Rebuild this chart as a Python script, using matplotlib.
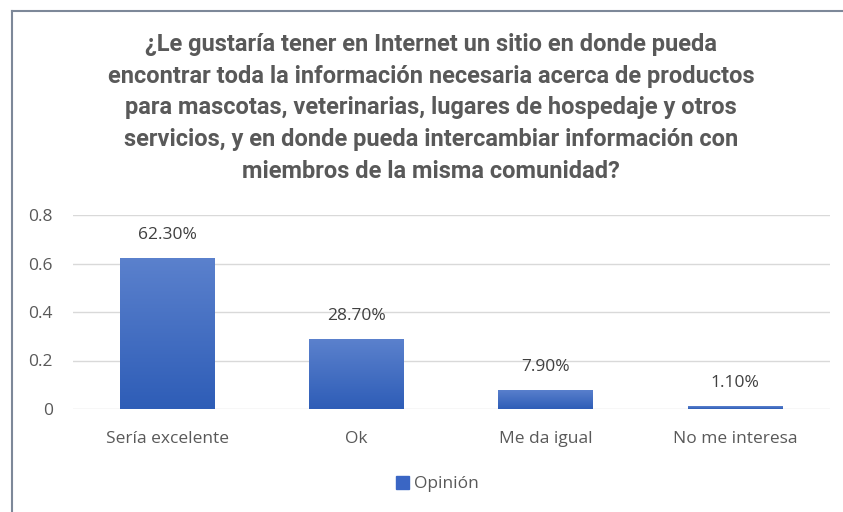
import numpy as np
import matplotlib.pyplot as plt
from matplotlib.lines import Line2D
from matplotlib.patches import Patch
from matplotlib.colors import LinearSegmentedColormap

categorias = ["Sería excelente", "Ok", "Me da igual", "No me interesa"]
valores = [0.623, 0.287, 0.079, 0.011]
etiquetas = ["62.30%", "28.70%", "7.90%", "1.10%"]
yticks = [0, 0.2, 0.4, 0.6, 0.8]
ytick_labels = ["0", "0.2", "0.4", "0.6", "0.8"]

titulo = ("¿Le gustaría tener en Internet un sitio en donde pueda\n"
          "encontrar toda la información necesaria acerca de productos\n"
          "para mascotas, veterinarias, lugares de hospedaje y otros\n"
          "servicios, y en donde pueda intercambiar información con\n"
          "miembros de la misma comunidad?")

fuente_titulo = "Roboto"
fuente = "Open Sans"
gris = "#595959"

fig = plt.figure(figsize=(8.43, 5.12), dpi=100)
ax = fig.add_axes([72.5 / 843, 1 - 409 / 512, (829.5 - 72.5) / 843, (409 - 215) / 512])

x = np.arange(len(categorias))
barras = ax.bar(x, valores, width=0.5, color="#3A66C4", zorder=2)

# degradado vertical dentro de cada barra
grad = np.linspace(0, 1, 256).reshape(-1, 1)
cmap = LinearSegmentedColormap.from_list("azul", ["#2E5DB7", "#5B81CD"])
for b in barras:
    x0, w, h = b.get_x(), b.get_width(), b.get_height()
    im = ax.imshow(grad, cmap=cmap, aspect="auto", origin="lower",
                   extent=[x0, x0 + w, 0, h], zorder=3)
    im.set_clip_path(b)

for xi, v, t in zip(x, valores, etiquetas):
    ax.annotate(t, (xi, v), xytext=(0, 11), textcoords="offset points",
                ha="center", va="bottom", fontsize=12.5,
                color="#404040", family=fuente)

ax.set_xlim(-0.5, len(categorias) - 0.5)
ax.set_ylim(0, 0.8)
ax.set_yticks(yticks)
ax.set_yticklabels(ytick_labels, family=fuente, fontsize=12.5, color=gris)
ax.set_xticks(x)
ax.set_xticklabels(categorias, family=fuente, fontsize=12.5, color=gris)
ax.tick_params(axis="x", length=0, pad=16)
ax.tick_params(axis="y", length=0, pad=14)
ax.grid(axis="y", color="#D9D9D9", linewidth=1, zorder=0)
for s in ax.spines.values():
    s.set_visible(False)

fig.text(431 / 843, 1 - 33 / 512, titulo, ha="center", va="top",
         fontsize=17, fontweight="bold", color=gris, family=fuente_titulo,
         linespacing=1.48)

fig.legend(handles=[Patch(color="#3A66C4", label="Opinión")],
           loc="center", bbox_to_anchor=(437 / 843, 1 - 484 / 512),
           frameon=False, handlelength=0.75, handleheight=0.75,
           handletextpad=0.3, prop={"family": fuente, "size": 12.5},
           labelcolor=gris)

# marco exterior del gráfico
fig.add_artist(Line2D([11.5 / 843, 11.5 / 843], [0, 1 - 10.5 / 512],
                      color="#7D8899", linewidth=1.5, transform=fig.transFigure))
fig.add_artist(Line2D([11.5 / 843, 1], [1 - 10.5 / 512, 1 - 10.5 / 512],
                      color="#7D8899", linewidth=1.5, transform=fig.transFigure))

fig.savefig("out.png", dpi=100)
